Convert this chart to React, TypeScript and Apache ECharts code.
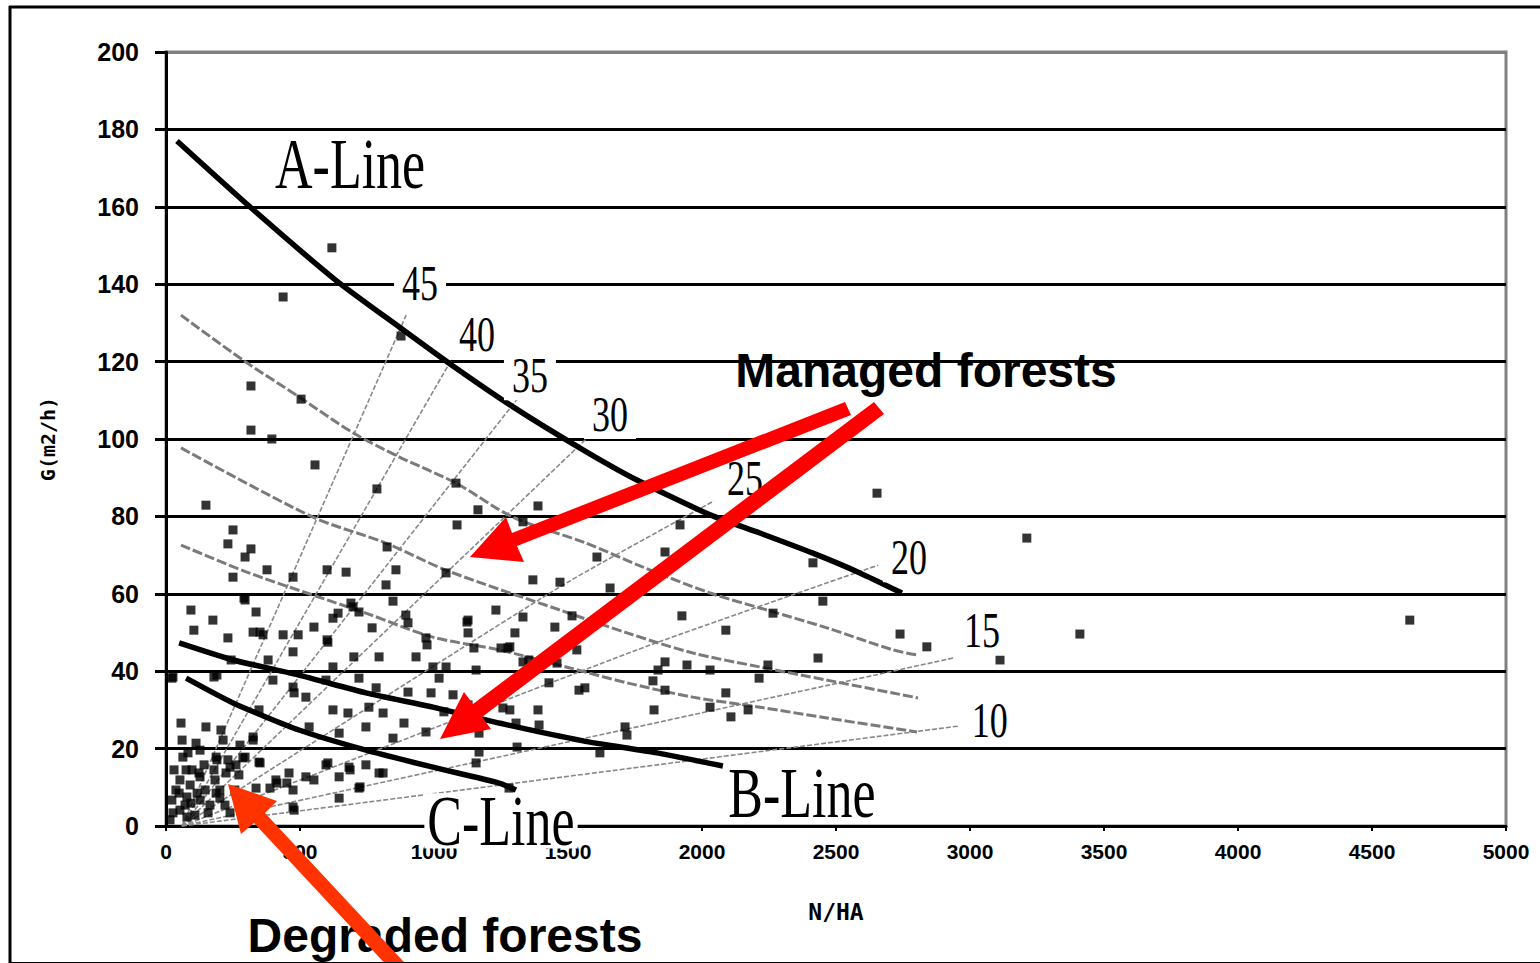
import React, { useEffect, useRef } from "react";
import * as echarts from "echarts";

// ---------- data (N/HA, G m2/ha) ----------
const xMin = 0, xMax = 5000, xStep = 500;
const yMin = 0, yMax = 200, yStep = 20;

const aLine = [[41,177],[313,160],[634,141],[869,129],[1056,119.6],[1295,108.3],[1556,97.2],[1757,89.4],[2030,80.4],[2216,75.7],[2414,70.5],[2589,65.4],[2746,60.2]];
const bLine = [[49,47.3],[250,42.9],[496,39.0],[746,34.4],[996,30.7],[1243,26.6],[1556,22.0],[1832,18.9],[2078,15.5]];
const cLine = [[75,38.2],[250,31.8],[496,24.8],[746,19.6],[996,15.2],[1243,11.1],[1306,9.3]];

const h1 = [[56,132],[287,120.4],[496,110.9],[698,101.6],[869,95.4],[1082,88.6],[1295,79.8],[1567,73.1],[1780,66.9],[2030,60.2],[2243,55.8],[2466,51.2],[2713,45.5],[2802,44.2]];
const h2 = [[56,97.7],[549,79.8],[821,73.1],[1045,66.1],[1470,55.8],[1720,49.9],[1966,44.7],[2216,41.1],[2466,37.7],[2806,33.1]];
const h3 = [[56,72.6],[310,65.4],[746,55.0],[996,48.8],[1243,45.5],[1493,41.1],[1720,37.0],[1966,33.3],[2216,30.7],[2466,27.9],[2802,24.3]];

const d45 = [[60,0],[896,132]];
const d40 = [[60,0],[1082,122.5]];
const d35 = [[60,0],[1317,110.9]];
const d30 = [[60,0],[1575,100.5]];
const d25 = [[60,0],[1470,61.8],[2045,84]];
const d20 = [[60,0],[1757,45.5],[2657,67.4]];
const d15 = [[60,0],[2937,43.4]];
const d10 = [[60,0],[2955,25.8]];

const plots = [
[619,149.4],[437,136.7],[317,113.7],[504,110.3],[317,102.3],[395,100.0],[556,93.3],[149,82.9],[787,87.1],[1082,88.6],
[1164,81.7],[1086,77.8],[1388,82.7],[1332,78.6],[877,126.6],[2653,86.0],[3212,74.4],[3410,49.6],[4641,53.2],[3112,42.9],
[2414,68.0],[2451,58.1],[2433,43.4],[2739,49.6],[2839,46.3],[1918,77.8],[1862,70.8],[1608,69.5],[1369,63.6],[1470,63.0],
[1657,61.5],[1925,54.3],[2265,55.0],[2089,50.6],[1515,54.3],[1451,51.4],[1332,54.0],[1302,49.9],[1533,45.5],[1862,42.4],
[1944,41.6],[2030,40.3],[2246,41.6],[2213,38.2],[1836,40.3],[1817,37.5],[1862,35.1],[2089,34.4],[2030,30.7],[2172,30.0],
[2108,28.2],[1821,30.0],[1713,25.6],[1720,23.5],[1563,35.7],[1459,42.1],[1332,42.4],[1283,46.3],[1283,30.0],[1388,30.0],
[1310,20.4],[1619,18.9],[1280,9.8],[1317,6.7],[1429,37.0],[1541,35.1],[1392,26.1],[1257,30.5],[1168,19.1],[1157,16.3],
[1306,26.6],
[250,76.5],[231,72.9],[317,71.6],[295,69.5],[377,66.2],[250,64.3],[474,64.3],[601,66.2],[672,65.6],[825,72.1],
[858,66.2],[1045,65.4],[821,62.3],[847,58.1],[291,58.9],[93,55.8],[336,55.3],[175,53.2],[104,50.6],[231,48.6],
[325,50.1],[362,49.4],[437,49.4],[493,49.4],[552,51.4],[604,47.5],[623,53.7],[690,57.6],[720,55.3],[642,55.0],
[895,54.5],[903,52.5],[970,48.6],[1231,55.8],[1127,53.2],[1127,49.9],[1250,46.0],[1149,46.0],[474,45.0],[701,43.7],
[795,43.7],[933,43.7],[996,41.1],[1045,41.1],[1157,40.3],[1354,42.9],[623,41.1],[381,42.9],[243,42.9],[26,38.5],
[179,38.5],[399,37.7],[474,35.9],[597,37.7],[720,38.2],[784,35.7],[903,34.6],[989,34.4],[1019,38.2],[1071,33.9],
[1242,33.3],[56,26.6],[149,25.6],[205,24.8],[347,30.0],[478,34.4],[522,33.3],[623,30.0],[679,29.2],[757,30.7],
[810,29.2],[888,26.6],[970,24.3],[847,22.7],[746,25.6],[534,25.6],[646,24.0],[325,22.2],[213,22.2],[112,21.4],
[63,17.8],[187,17.8],[287,17.6],[347,16.5],[224,13.7],[123,13.7],[75,14.5],[272,13.2],[410,11.9],[459,13.7],
[522,12.7],[552,11.9],[646,12.7],[683,15.2],[746,15.8],[795,13.7],[597,15.8],[720,9.8],[646,7.2],[474,9.3],
[478,4.1],[336,9.8],[187,8.5],[157,3.4],[93,5.9],[49,8.5],[26,3.4],[78,2.3],[239,3.4],[201,7.2],
[116,8.5],[78,7.5],[22,38.2],[190,39.0],[82,18.9],[127,12.7],[190,17.1],[239,15.2],[295,17.8],[351,16.3],
[388,9.8],[414,11.1],[474,4.9],[451,11.1],[604,16.3],[687,14.5],[724,10.1],[810,13.7],[325,23.0],[295,58.4],
[698,56.6],[601,48.1],[351,50.1],[1123,52.7],[1276,46.0],[1037,29.5],[1127,31.3],[1168,24.0],[974,46.8],[769,51.2],
[22,6.7],[37,9.3],[15,1.6],[52,4.1],[71,5.4],[90,10.6],[108,2.8],[127,6.7],[146,9.3],[164,5.4],
[183,11.9],[201,9.3],[220,5.4],[257,9.3],[276,6.7],[313,5.4],[52,11.9],[97,14.5],[142,15.8],[179,14.5],
[231,17.1],[261,15.8],[30,14.5],[60,22.2],[127,19.6],[276,20.9]
];

// label anchors (data units)
const diamLabels = ["45","40","35","30","25","20","15","10"];
const diamLabelN = [948,1160,1358,1657,2160,2772,3045,3074];
const diamLabelG = [140.3,127.1,116.5,106.5,89.9,69.5,50.6,27.4];
const lineLabels = ["A-Line","B-Line","C-Line"];
const lineLabelN = [687,2373,1250];
const lineLabelG = [171.1,8.5,1.3];

const tickFont = "'Liberation Sans', Arial, sans-serif";
const mono = "'DejaVu Sans Mono', monospace";

export default function App() {
  const ref = useRef<HTMLDivElement>(null);
  useEffect(() => {
    if (!ref.current) return;
    const chart = echarts.init(ref.current, null, { renderer: "svg" });
    const splitColors: string[] = [];
    for (let v = yMin; v < yMax; v += yStep) splitColors.push("#000");
    splitColors.push("#808080");

    const thick = (name: string, data: number[][]) => ({
      type: "line", name, data, symbol: "none", smooth: 0.2, z: 4,
      lineStyle: { color: "#000", width: 5.5 },
    });
    const hLine = (name: string, data: number[][]) => ({
      type: "line", name, data, symbol: "none", smooth: 0.3, z: 2,
      lineStyle: { color: "#7a7a7a", width: 3, type: [10, 3] },
    });
    const dLine = (name: string, data: number[][]) => ({
      type: "line", name, data, symbol: "none", smooth: 0.2, z: 2,
      lineStyle: { color: "#888888", width: 1.6, type: [5, 2] },
    });

    chart.setOption({
      animation: false,
      backgroundColor: "#fff",
      grid: {
        left: 166, right: 34, top: 52, bottom: 137,
        show: true, borderColor: "#808080", borderWidth: 3,
        containLabel: false, outerBoundsMode: "none",
      },
      xAxis: {
        type: "value", min: xMin, max: xMax, interval: xStep,
        name: "N/HA", nameLocation: "middle", nameGap: 74,
        nameTextStyle: { color: "#000", fontFamily: mono, fontSize: 23, fontWeight: "bold" },
        axisLine: { show: true, onZero: false, lineStyle: { color: "#000", width: 3 } },
        axisTick: { show: true, length: 5, lineStyle: { color: "#000", width: 2 } },
        axisLabel: { color: "#000", fontFamily: tickFont, fontSize: 21, fontWeight: "bold", margin: 15, formatter: (v: number) => String(v) },
        splitLine: { show: false },
      },
      yAxis: {
        type: "value", min: yMin, max: yMax, interval: yStep,
        name: "G(m2/h)", nameLocation: "middle", nameGap: 108, nameRotate: 90,
        nameTextStyle: { color: "#000", fontFamily: mono, fontSize: 20, fontWeight: "bold" },
        axisLine: { show: true, lineStyle: { color: "#000", width: 3 } },
        axisTick: { show: true, length: 11, lineStyle: { color: "#000", width: 3 } },
        axisLabel: { color: "#000", fontFamily: tickFont, fontSize: 25, fontWeight: "bold", margin: 27, formatter: (v: number) => String(v) },
        splitLine: { show: true, lineStyle: { color: splitColors, width: 3 } },
      },
      series: [
        dLine("45", d45), dLine("40", d40), dLine("35", d35), dLine("30", d30),
        dLine("25", d25), dLine("20", d20), dLine("15", d15), dLine("10", d10),
        hLine("h1", h1), hLine("h2", h2), hLine("h3", h3),
        {
          type: "scatter", name: "plots", data: plots, symbol: "rect", symbolSize: 9, z: 5,
          itemStyle: { color: "#000" },
        },
        thick("A-Line", aLine), thick("B-Line", bLine), thick("C-Line", cLine),
      ],
    });

    const g: any[] = [];
    // outer frame
    g.push({ type: "line", z: 200, shape: { x1: 9, y1: 7, x2: 1540, y2: 7 }, style: { stroke: "#000", lineWidth: 3 } });
    g.push({ type: "line", z: 200, shape: { x1: 10, y1: 6, x2: 10, y2: 963 }, style: { stroke: "#000", lineWidth: 3 } });
    g.push({ type: "line", z: 200, shape: { x1: 10, y1: 962.5, x2: 1540, y2: 962.5 }, style: { stroke: "#000", lineWidth: 1 } });

    const serif = "'Liberation Serif', 'Times New Roman', serif";
    diamLabels.forEach((t, i) => {
      const p = chart.convertToPixel({ gridIndex: 0 }, [diamLabelN[i], diamLabelG[i]]) as number[];
      g.push({
        type: "text", z: 120, x: p[0], y: p[1], scaleY: 1.4,
        style: {
          text: t, fontFamily: serif, fontSize: 36, fill: "#000",
          align: "center", verticalAlign: "middle", textAlign: "center", textVerticalAlign: "middle",
          backgroundColor: "#fff", padding: [0, 8],
        },
      });
    });
    lineLabels.forEach((t, i) => {
      const p = chart.convertToPixel({ gridIndex: 0 }, [lineLabelN[i], lineLabelG[i]]) as number[];
      g.push({
        type: "text", z: 120, x: p[0], y: p[1], scaleY: 1.38,
        style: {
          text: t, fontFamily: serif, fontSize: 52, lineHeight: 40, fill: "#000",
          align: "center", verticalAlign: "middle", textAlign: "center", textVerticalAlign: "middle",
          backgroundColor: "#fff", padding: [0, 3],
        },
      });
    });

    const sans = "bold 48px 'Liberation Sans', Arial, sans-serif";
    g.push({
      type: "text", z: 140, x: 926, y: 370,
      style: { text: "Managed forests", font: sans, fill: "#000", align: "center", verticalAlign: "middle", textAlign: "center", textVerticalAlign: "middle" },
    });
    g.push({
      type: "text", z: 140, x: 445, y: 935,
      style: { text: "Degraded forests", font: sans, fill: "#000", align: "center", verticalAlign: "middle", textAlign: "center", textVerticalAlign: "middle" },
    });

    // annotation arrows (drawn above texts)
    g.push({ type: "polygon", z: 150, shape: { points: [[845,402],[512,533],[506,517],[470,557],[524,562],[517,546],[851,415]] }, style: { fill: "#ff0000" } });
    g.push({ type: "polygon", z: 150, shape: { points: [[874,402],[473,704],[464,692],[440,739],[491,729],[482,717],[884,414]] }, style: { fill: "#ff0000" } });
    g.push({ type: "polygon", z: 150, shape: { points: [[228,784],[277,801],[265,813],[416,975],[405,985],[254,823],[241,834]] }, style: { fill: "#ff3300" } });

    chart.setOption({ graphic: g });
    return () => chart.dispose();
  }, []);
  return <div ref={ref} style={{ position: "fixed", left: 0, top: 0, width: 1540, height: 963, background: "#fff" }} />;
}
